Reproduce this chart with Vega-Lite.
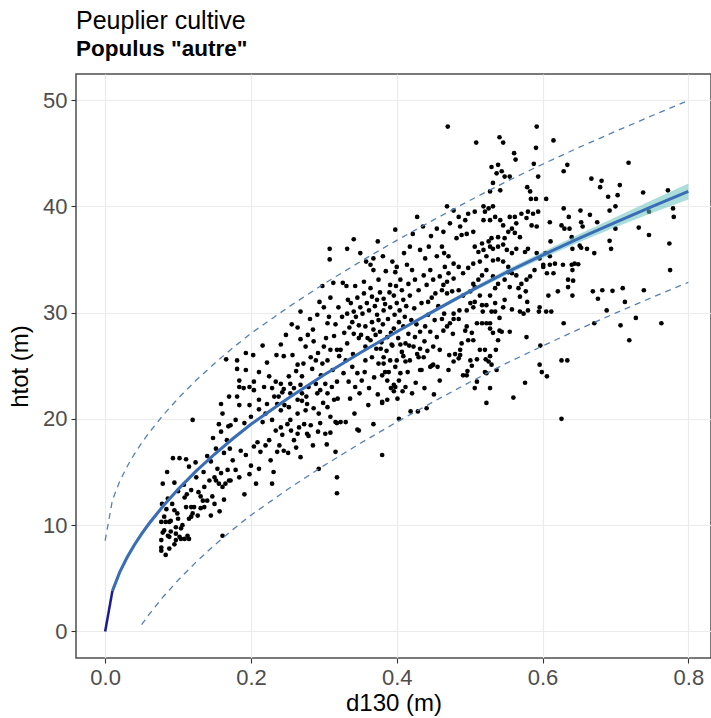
{
"$schema":"https://vega.github.io/schema/vega-lite/v6.json",
"width":635,"height":584,
"autosize":{"type":"none"},
"padding":{"left":76,"top":74,"right":0,"bottom":60},
"background":"white",
"title":{"text":"Peuplier cultive","subtitle":"Populus \"autre\"","anchor":"start","frame":"group","font":"Liberation Sans","fontSize":25,"fontWeight":"normal","color":"#000000","subtitleFont":"Liberation Sans","subtitleFontSize":22.5,"subtitleFontWeight":"bold","subtitleColor":"#000000","offset":14,"subtitlePadding":4},
"config":{
"view":{"stroke":"#4d4d4d","strokeWidth":1.5},
"axis":{"labelFont":"Liberation Sans","labelFontSize":22,"labelColor":"#4d4d4d","titleFont":"Liberation Sans","titleFontSize":24,"titleColor":"#000000","titleFontWeight":"normal","tickColor":"#333333","tickSize":5,"tickWidth":1.1,"gridColor":"#ebebeb","gridWidth":1.2,"domain":false,"labelPadding":4}
},
"resolve":{"axis":{"x":"independent","y":"independent"}},
"datasets":{
"fit":[
{"d":0,"f":0,"lo":0,"hi":0,"up":8.55},
{"d":0.01,"f":3.82,"lo":3.47,"hi":4.17,"up":12.37},
{"d":0.02,"f":5.58,"lo":5.28,"hi":5.88,"up":14.13},
{"d":0.03,"f":6.95,"lo":6.67,"hi":7.23,"up":15.5},
{"d":0.04,"f":8.13,"lo":7.87,"hi":8.39,"up":16.68},
{"d":0.05,"f":9.18,"lo":8.93,"hi":9.43,"up":17.73,"dn":0.63},
{"d":0.06,"f":10.13,"lo":9.89,"hi":10.37,"up":18.68,"dn":1.58},
{"d":0.08,"f":11.84,"lo":11.62,"hi":12.06,"up":20.39,"dn":3.29},
{"d":0.1,"f":13.37,"lo":13.17,"hi":13.57,"up":21.92,"dn":4.82},
{"d":0.125,"f":15.1,"lo":14.92,"hi":15.28,"up":23.65,"dn":6.55},
{"d":0.15,"f":16.67,"lo":16.5,"hi":16.84,"up":25.22,"dn":8.12},
{"d":0.175,"f":18.13,"lo":17.97,"hi":18.29,"up":26.68,"dn":9.58},
{"d":0.2,"f":19.49,"lo":19.34,"hi":19.64,"up":28.04,"dn":10.94},
{"d":0.25,"f":21.9,"lo":21.77,"hi":22.03,"up":30.45,"dn":13.35},
{"d":0.3,"f":24.12,"lo":24.0,"hi":24.24,"up":32.7,"dn":15.6},
{"d":0.35,"f":26.22,"lo":26.09,"hi":26.35,"up":34.8,"dn":17.7},
{"d":0.4,"f":28.2,"lo":28.05,"hi":28.35,"up":36.8,"dn":19.7},
{"d":0.45,"f":30.12,"lo":29.95,"hi":30.29,"up":38.7,"dn":21.6},
{"d":0.5,"f":32.0,"lo":31.8,"hi":32.2,"up":40.55,"dn":23.45},
{"d":0.55,"f":33.77,"lo":33.52,"hi":34.02,"up":42.32,"dn":25.22},
{"d":0.6,"f":35.41,"lo":35.11,"hi":35.71,"up":43.96,"dn":26.86},
{"d":0.65,"f":36.99,"lo":36.61,"hi":37.37,"up":45.54,"dn":28.44},
{"d":0.7,"f":38.5,"lo":38.02,"hi":38.98,"up":47.05,"dn":29.95},
{"d":0.75,"f":39.97,"lo":39.37,"hi":40.57,"up":48.52,"dn":31.42},
{"d":0.8,"f":41.4,"lo":40.65,"hi":42.15,"up":49.95,"dn":32.85}
],
"pts":[
{"d":0.079,"h":13.9},{"d":0.095,"h":14.0},{"d":0.086,"h":12.5},{"d":0.095,"h":11.4},{"d":0.077,"h":10.3},{"d":0.081,"h":9.5},{"d":0.09,"h":9.4},{"d":0.086,"h":9.0},{"d":0.077,"h":7.6},{"d":0.083,"h":7.2},{"d":0.088,"h":7.8},{"d":0.097,"h":8.6},{"d":0.102,"h":8.9},{"d":0.115,"h":8.7},{"d":0.109,"h":8.7},{"d":0.12,"h":11.1},{"d":0.115,"h":10.6},{"d":0.118,"h":11.7},{"d":0.127,"h":10.9},{"d":0.131,"h":11.6},{"d":0.136,"h":11.7},{"d":0.14,"h":12.3},{"d":0.147,"h":12.7},{"d":0.15,"h":12.0},{"d":0.131,"h":12.7},{"d":0.136,"h":13.6},{"d":0.143,"h":14.2},{"d":0.15,"h":14.5},{"d":0.156,"h":13.9},{"d":0.159,"h":14.9},{"d":0.168,"h":15.2},{"d":0.165,"h":13.9},{"d":0.17,"h":14.2},{"d":0.154,"h":15.3},{"d":0.115,"h":15.5},{"d":0.099,"h":11.1},{"d":0.106,"h":10.0},{"d":0.097,"h":9.8},{"d":0.088,"h":10.3},{"d":0.077,"h":8.6},{"d":0.104,"h":9.7},{"d":0.093,"h":16.3},{"d":0.102,"h":16.3},{"d":0.111,"h":16.2},{"d":0.12,"h":19.9},{"d":0.14,"h":16.5},{"d":0.159,"h":21.4},{"d":0.081,"h":10.8},{"d":0.09,"h":10.4},{"d":0.083,"h":10.3},{"d":0.097,"h":9.2},{"d":0.088,"h":8.9},{"d":0.079,"h":9.3},{"d":0.095,"h":8.2},{"d":0.077,"h":7.9},{"d":0.104,"h":8.7},{"d":0.113,"h":9.0},{"d":0.118,"h":10.8},{"d":0.111,"h":11.7},{"d":0.109,"h":12.6},{"d":0.122,"h":11.7},{"d":0.134,"h":12.3},{"d":0.152,"h":14.2},{"d":0.161,"h":13.6},{"d":0.161,"h":20.5},{"d":0.17,"h":22.1},{"d":0.156,"h":19.5},{"d":0.159,"h":18.8},{"d":0.161,"h":9.0},{"d":0.118,"h":13.3},{"d":0.085,"h":15.0},{"d":0.1,"h":13.2},{"d":0.108,"h":13.8},{"d":0.125,"h":14.5},{"d":0.128,"h":13.1},{"d":0.112,"h":12.9},{"d":0.145,"h":16.0},{"d":0.152,"h":17.2},{"d":0.163,"h":16.8},{"d":0.167,"h":18.0},{"d":0.148,"h":18.2},{"d":0.124,"h":15.9},{"d":0.135,"h":15.0},{"d":0.092,"h":12.0},{"d":0.1,"h":10.6},{"d":0.084,"h":11.5},{"d":0.078,"h":12.0},{"d":0.145,"h":10.9},{"d":0.157,"h":11.3},{"d":0.163,"h":12.4},{"d":0.171,"h":17.2},{"d":0.169,"h":19.3},{"d":0.166,"h":25.6},
{"d":0.175,"h":16.1},{"d":0.179,"h":15.2},{"d":0.184,"h":14.5},{"d":0.191,"h":12.9},{"d":0.198,"h":14.8},{"d":0.2,"h":15.6},{"d":0.211,"h":15.3},{"d":0.186,"h":17.0},{"d":0.193,"h":16.6},{"d":0.204,"h":17.4},{"d":0.209,"h":17.8},{"d":0.213,"h":16.9},{"d":0.22,"h":17.5},{"d":0.225,"h":18.0},{"d":0.227,"h":16.1},{"d":0.229,"h":13.9},{"d":0.236,"h":16.9},{"d":0.239,"h":17.5},{"d":0.243,"h":18.5},{"d":0.245,"h":17.0},{"d":0.255,"h":18.9},{"d":0.259,"h":18.0},{"d":0.264,"h":18.6},{"d":0.268,"h":16.4},{"d":0.277,"h":18.6},{"d":0.234,"h":18.9},{"d":0.172,"h":14.2},{"d":0.293,"h":15.3},{"d":0.316,"h":16.9},{"d":0.318,"h":14.5},{"d":0.318,"h":13.0},{"d":0.279,"h":18.4},{"d":0.292,"h":18.8},{"d":0.302,"h":18.6},{"d":0.309,"h":18.7},{"d":0.316,"h":19.7},
{"d":0.308,"h":35.0},{"d":0.298,"h":32.5},{"d":0.309,"h":31.4},{"d":0.32,"h":30.5},{"d":0.291,"h":29.8},{"d":0.264,"h":28.6},{"d":0.268,"h":27.5},{"d":0.286,"h":27.3},{"d":0.216,"h":26.9},{"d":0.241,"h":27.0},{"d":0.193,"h":26.2},{"d":0.181,"h":25.5},{"d":0.181,"h":24.7},{"d":0.193,"h":24.6},{"d":0.184,"h":23.6},{"d":0.204,"h":23.5},{"d":0.225,"h":24.0},{"d":0.241,"h":23.3},{"d":0.245,"h":25.9},{"d":0.257,"h":26.0},{"d":0.264,"h":25.1},{"d":0.252,"h":24.0},{"d":0.229,"h":22.9},{"d":0.238,"h":22.1},{"d":0.254,"h":22.4},{"d":0.27,"h":24.0},{"d":0.282,"h":25.8},{"d":0.289,"h":25.5},{"d":0.284,"h":24.7},{"d":0.298,"h":25.2},{"d":0.305,"h":25.5},{"d":0.309,"h":26.5},{"d":0.318,"h":26.5},{"d":0.314,"h":27.8},{"d":0.3,"h":26.8},{"d":0.275,"h":26.8},
{"d":0.181,"h":22.1},{"d":0.184,"h":21.3},{"d":0.204,"h":22.7},{"d":0.211,"h":21.8},{"d":0.222,"h":21.4},{"d":0.232,"h":22.1},{"d":0.241,"h":20.8},{"d":0.252,"h":21.1},{"d":0.264,"h":21.8},{"d":0.27,"h":22.4},{"d":0.279,"h":23.0},{"d":0.289,"h":23.3},{"d":0.295,"h":22.7},{"d":0.305,"h":22.4},{"d":0.311,"h":23.0},{"d":0.318,"h":23.5},{"d":0.179,"h":19.9},{"d":0.191,"h":19.6},{"d":0.2,"h":20.2},{"d":0.216,"h":19.7},{"d":0.229,"h":19.9},{"d":0.241,"h":19.2},{"d":0.254,"h":19.9},{"d":0.264,"h":20.5},{"d":0.275,"h":20.8},{"d":0.286,"h":21.0},{"d":0.293,"h":20.5},{"d":0.305,"h":21.1},{"d":0.309,"h":20.2},{"d":0.318,"h":19.6},{"d":0.266,"h":19.2},{"d":0.282,"h":19.4},{"d":0.295,"h":19.6},{"d":0.314,"h":21.8},{"d":0.302,"h":23.3},{"d":0.291,"h":22.4},{"d":0.254,"h":23.3},{"d":0.268,"h":23.2},{"d":0.243,"h":22.5},
{"d":0.308,"h":36.0},{"d":0.305,"h":29.0},{"d":0.3,"h":30.5},
{"d":0.198,"h":21.3},{"d":0.211,"h":20.9},{"d":0.22,"h":20.5},{"d":0.236,"h":21.4},{"d":0.245,"h":22.8},{"d":0.27,"h":21.7},{"d":0.277,"h":21.4},{"d":0.184,"h":23.0},{"d":0.198,"h":23.0},{"d":0.234,"h":23.5},{"d":0.172,"h":19.4},{"d":0.273,"h":19.5},{"d":0.25,"h":19.5},
{"d":0.262,"h":24.5},{"d":0.272,"h":25.2},{"d":0.278,"h":27.9},{"d":0.285,"h":28.4},{"d":0.292,"h":26.2},{"d":0.296,"h":24.1},{"d":0.303,"h":27.6},{"d":0.312,"h":24.6},{"d":0.316,"h":28.9},{"d":0.321,"h":25.9},{"d":0.307,"h":29.6},{"d":0.313,"h":32.8},{"d":0.294,"h":31.0},{"d":0.281,"h":29.4},{"d":0.268,"h":30.1},{"d":0.256,"h":28.9},{"d":0.248,"h":27.9},{"d":0.235,"h":26.0},{"d":0.222,"h":25.3},{"d":0.211,"h":24.4},{"d":0.203,"h":26.0},{"d":0.19,"h":22.9},{"d":0.218,"h":23.0},{"d":0.246,"h":21.3},{"d":0.259,"h":22.9},{"d":0.276,"h":22.1},{"d":0.299,"h":21.5},{"d":0.319,"h":21.9},{"d":0.262,"h":17.3},{"d":0.285,"h":17.5},{"d":0.304,"h":17.6},{"d":0.251,"h":16.8},{"d":0.231,"h":15.0},{"d":0.207,"h":13.9},
{"d":0.341,"h":36.9},{"d":0.428,"h":39.0},{"d":0.398,"h":37.8},{"d":0.374,"h":36.7},{"d":0.332,"h":36.0},{"d":0.368,"h":35.1},{"d":0.381,"h":35.3},{"d":0.364,"h":34.5},{"d":0.368,"h":34.0},{"d":0.331,"h":32.5},{"d":0.343,"h":32.5},{"d":0.355,"h":32.9},{"d":0.375,"h":33.1},{"d":0.391,"h":32.6},{"d":0.4,"h":34.3},{"d":0.405,"h":33.1},{"d":0.414,"h":34.5},{"d":0.422,"h":37.4},{"d":0.432,"h":35.9},{"d":0.439,"h":35.1},{"d":0.444,"h":36.2},{"d":0.455,"h":37.9},{"d":0.455,"h":35.3},{"d":0.446,"h":34.0},{"d":0.437,"h":33.5},{"d":0.425,"h":33.1},{"d":0.416,"h":32.7},{"d":0.407,"h":32.1},{"d":0.396,"h":31.6},{"d":0.382,"h":31.3},{"d":0.373,"h":31.2},{"d":0.366,"h":31.5},{"d":0.359,"h":30.9},{"d":0.35,"h":30.5},{"d":0.341,"h":30.1},{"d":0.332,"h":29.9},{"d":0.325,"h":29.6},{"d":0.339,"h":29.1},{"d":0.348,"h":28.8},{"d":0.357,"h":28.7},{"d":0.366,"h":29.1},{"d":0.373,"h":29.8},{"d":0.382,"h":30.2},{"d":0.391,"h":30.5},{"d":0.4,"h":30.9},{"d":0.409,"h":31.2},{"d":0.418,"h":31.6},{"d":0.43,"h":32.1},{"d":0.441,"h":32.6},{"d":0.45,"h":33.1},{"d":0.459,"h":33.4},
{"d":0.323,"h":26.5},{"d":0.332,"h":27.1},{"d":0.341,"h":28.0},{"d":0.348,"h":27.6},{"d":0.357,"h":26.8},{"d":0.364,"h":27.4},{"d":0.371,"h":27.9},{"d":0.377,"h":28.2},{"d":0.387,"h":27.7},{"d":0.396,"h":28.5},{"d":0.403,"h":29.1},{"d":0.409,"h":28.7},{"d":0.416,"h":28.0},{"d":0.425,"h":27.7},{"d":0.432,"h":28.2},{"d":0.439,"h":28.7},{"d":0.446,"h":28.2},{"d":0.455,"h":27.7},{"d":0.33,"h":25.5},{"d":0.339,"h":24.9},{"d":0.346,"h":24.3},{"d":0.352,"h":23.6},{"d":0.343,"h":23.0},{"d":0.334,"h":23.5},{"d":0.327,"h":24.3},{"d":0.357,"h":25.5},{"d":0.366,"h":25.8},{"d":0.375,"h":25.2},{"d":0.382,"h":25.8},{"d":0.391,"h":25.5},{"d":0.398,"h":24.9},{"d":0.405,"h":24.3},{"d":0.412,"h":23.0},{"d":0.396,"h":23.2},{"d":0.387,"h":23.6},{"d":0.38,"h":24.1},{"d":0.418,"h":25.5},{"d":0.428,"h":26.1},{"d":0.437,"h":25.8},{"d":0.432,"h":24.6},{"d":0.446,"h":24.9},{"d":0.45,"h":26.8},{"d":0.459,"h":26.5},{"d":0.448,"h":25.0},{"d":0.459,"h":23.6},
{"d":0.38,"h":16.6},{"d":0.403,"h":20.0},{"d":0.419,"h":20.7},{"d":0.434,"h":24.6},{"d":0.45,"h":25.1},{"d":0.43,"h":25.8},{"d":0.409,"h":25.9},{"d":0.4,"h":25.5},{"d":0.412,"h":25.4},{"d":0.403,"h":23.6},{"d":0.398,"h":23.0},{"d":0.396,"h":22.6},{"d":0.387,"h":21.8},{"d":0.38,"h":21.6},{"d":0.389,"h":24.4},{"d":0.384,"h":24.4},{"d":0.382,"h":25.2},{"d":0.393,"h":27.0},{"d":0.405,"h":27.0},{"d":0.412,"h":27.1},{"d":0.423,"h":26.8},{"d":0.432,"h":26.6},{"d":0.368,"h":19.5},{"d":0.346,"h":19.0},{"d":0.323,"h":19.7},{"d":0.33,"h":19.7},{"d":0.342,"h":20.5},{"d":0.361,"h":21.3},{"d":0.38,"h":21.5},{"d":0.348,"h":18.9},{"d":0.398,"h":33.8},
{"d":0.328,"h":28.1},{"d":0.335,"h":28.6},{"d":0.337,"h":30.9},{"d":0.344,"h":29.6},{"d":0.346,"h":31.4},{"d":0.351,"h":27.9},{"d":0.353,"h":29.9},{"d":0.355,"h":31.8},{"d":0.36,"h":27.6},{"d":0.362,"h":30.2},{"d":0.364,"h":32.3},{"d":0.368,"h":28.4},{"d":0.37,"h":30.6},{"d":0.372,"h":26.6},{"d":0.375,"h":29.3},{"d":0.377,"h":31.9},{"d":0.379,"h":27.2},{"d":0.381,"h":28.9},{"d":0.384,"h":30.8},{"d":0.386,"h":26.4},{"d":0.388,"h":29.4},{"d":0.39,"h":31.9},{"d":0.392,"h":28.1},{"d":0.394,"h":26.9},{"d":0.397,"h":29.8},{"d":0.399,"h":32.5},{"d":0.402,"h":27.6},{"d":0.404,"h":30.2},{"d":0.407,"h":26.3},{"d":0.411,"h":29.6},{"d":0.413,"h":30.6},{"d":0.417,"h":26.9},{"d":0.42,"h":29.3},{"d":0.424,"h":30.4},{"d":0.427,"h":28.9},{"d":0.434,"h":30.9},{"d":0.438,"h":27.3},{"d":0.443,"h":29.8},{"d":0.448,"h":31.4},{"d":0.452,"h":29.3},{"d":0.457,"h":30.6},{"d":0.34,"h":26.1},{"d":0.333,"h":31.2},{"d":0.326,"h":32.8},{"d":0.358,"h":34.8},{"d":0.35,"h":35.6},{"d":0.385,"h":33.9},{"d":0.394,"h":34.8},{"d":0.41,"h":35.6},{"d":0.418,"h":36.2},{"d":0.436,"h":38.1},{"d":0.447,"h":37.2},{"d":0.421,"h":34.0},{"d":0.453,"h":31.8},{"d":0.443,"h":31.0},
{"d":0.336,"h":21.9},{"d":0.349,"h":22.4},{"d":0.356,"h":24.4},{"d":0.362,"h":22.9},{"d":0.369,"h":23.9},{"d":0.374,"h":22.3},{"d":0.378,"h":26.6},{"d":0.392,"h":22.9},{"d":0.401,"h":21.9},{"d":0.408,"h":22.6},{"d":0.415,"h":24.4},{"d":0.421,"h":22.4},{"d":0.426,"h":23.4},{"d":0.438,"h":22.9},{"d":0.442,"h":26.4},{"d":0.451,"h":22.3},{"d":0.456,"h":24.9},{"d":0.441,"h":21.0},{"d":0.429,"h":20.7},
{"d":0.47,"h":47.5},{"d":0.509,"h":46.0},{"d":0.541,"h":46.5},{"d":0.546,"h":46.0},{"d":0.592,"h":47.5},{"d":0.615,"h":46.2},{"d":0.591,"h":45.5},{"d":0.561,"h":45.0},{"d":0.563,"h":44.4},{"d":0.588,"h":44.0},{"d":0.594,"h":42.8},{"d":0.53,"h":43.7},{"d":0.539,"h":43.9},{"d":0.544,"h":43.3},{"d":0.537,"h":43.1},{"d":0.548,"h":42.8},{"d":0.555,"h":42.8},{"d":0.532,"h":42.2},{"d":0.542,"h":41.5},{"d":0.528,"h":41.4},{"d":0.579,"h":41.8},{"d":0.583,"h":41.4},{"d":0.584,"h":40.7},{"d":0.591,"h":40.7},{"d":0.605,"h":40.7},
{"d":0.464,"h":37.6},{"d":0.482,"h":37.0},{"d":0.489,"h":37.3},{"d":0.496,"h":37.4},{"d":0.505,"h":37.6},{"d":0.519,"h":40.0},{"d":0.526,"h":39.8},{"d":0.532,"h":40.0},{"d":0.521,"h":39.5},{"d":0.507,"h":39.5},{"d":0.519,"h":38.7},{"d":0.528,"h":38.7},{"d":0.535,"h":39.0},{"d":0.542,"h":38.7},{"d":0.546,"h":38.2},{"d":0.555,"h":39.0},{"d":0.562,"h":39.0},{"d":0.571,"h":39.3},{"d":0.58,"h":39.5},{"d":0.587,"h":39.3},{"d":0.594,"h":39.5},{"d":0.578,"h":38.9},{"d":0.585,"h":38.2},{"d":0.592,"h":38.1},{"d":0.564,"h":38.4},{"d":0.558,"h":37.9},{"d":0.553,"h":37.6},{"d":0.562,"h":37.5},{"d":0.569,"h":37.1},{"d":0.548,"h":37.0},{"d":0.539,"h":37.1},{"d":0.53,"h":37.0},{"d":0.526,"h":36.7},{"d":0.517,"h":36.5},{"d":0.507,"h":36.2},{"d":0.512,"h":35.7},{"d":0.519,"h":35.9},{"d":0.528,"h":36.2},{"d":0.532,"h":36.0},{"d":0.539,"h":36.2},{"d":0.546,"h":36.4},{"d":0.551,"h":35.9},{"d":0.558,"h":35.6},{"d":0.564,"h":36.0},{"d":0.576,"h":35.7},{"d":0.58,"h":36.0},{"d":0.592,"h":35.6},{"d":0.596,"h":35.1},{"d":0.61,"h":35.3},{"d":0.617,"h":34.6},{"d":0.601,"h":34.3},{"d":0.589,"h":34.0},{"d":0.583,"h":33.4},{"d":0.578,"h":33.1},{"d":0.571,"h":32.7},{"d":0.564,"h":33.5},{"d":0.558,"h":33.7},{"d":0.553,"h":34.3},{"d":0.546,"h":34.8},{"d":0.539,"h":35.0},{"d":0.532,"h":34.9},{"d":0.523,"h":35.3},{"d":0.514,"h":34.8},{"d":0.505,"h":34.6},{"d":0.498,"h":34.2},{"d":0.491,"h":33.7},{"d":0.485,"h":34.3},{"d":0.478,"h":34.6},{"d":0.471,"h":35.3},{"d":0.465,"h":35.6},{"d":0.462,"h":36.2},{"d":0.466,"h":34.3},{"d":0.471,"h":33.7},{"d":0.478,"h":33.2},{"d":0.469,"h":32.9},{"d":0.464,"h":32.6},{"d":0.462,"h":32.1},{"d":0.469,"h":31.8},{"d":0.476,"h":32.0},{"d":0.485,"h":32.1},{"d":0.491,"h":31.6},{"d":0.501,"h":32.0},{"d":0.505,"h":32.7},{"d":0.512,"h":33.1},{"d":0.517,"h":33.5},{"d":0.523,"h":34.0},{"d":0.532,"h":33.4},{"d":0.539,"h":32.7},{"d":0.548,"h":33.1},{"d":0.555,"h":32.4},{"d":0.528,"h":31.6},{"d":0.535,"h":32.3},{"d":0.514,"h":31.6},{"d":0.507,"h":32.4},
{"d":0.469,"h":40.0},{"d":0.478,"h":39.6},{"d":0.485,"h":39.0},{"d":0.494,"h":38.7},{"d":0.487,"h":38.1},{"d":0.473,"h":38.4},{"d":0.498,"h":39.3},
{"d":0.597,"h":26.9},{"d":0.596,"h":25.1},{"d":0.599,"h":24.4},{"d":0.606,"h":24.0},{"d":0.576,"h":23.4},{"d":0.56,"h":22.0},{"d":0.507,"h":22.9},{"d":0.528,"h":22.9},{"d":0.523,"h":21.5},{"d":0.487,"h":26.5},{"d":0.478,"h":25.4},{"d":0.471,"h":24.6},{"d":0.491,"h":24.1},{"d":0.503,"h":25.0},{"d":0.51,"h":25.6},{"d":0.521,"h":26.5},{"d":0.528,"h":25.9},{"d":0.526,"h":25.4},{"d":0.53,"h":25.1},{"d":0.485,"h":25.7},{"d":0.489,"h":27.1},{"d":0.498,"h":27.4},{"d":0.503,"h":28.1},{"d":0.505,"h":27.4},{"d":0.496,"h":28.7},{"d":0.494,"h":28.3},{"d":0.51,"h":29.0},{"d":0.517,"h":29.0},{"d":0.523,"h":29.0},{"d":0.528,"h":29.0},{"d":0.518,"h":30.1},{"d":0.53,"h":30.1},{"d":0.535,"h":30.1},{"d":0.528,"h":28.5},{"d":0.532,"h":28.1},{"d":0.544,"h":28.2},{"d":0.555,"h":28.2},{"d":0.539,"h":27.4},{"d":0.541,"h":29.5},{"d":0.546,"h":30.5},{"d":0.558,"h":30.3},{"d":0.569,"h":31.5},{"d":0.548,"h":31.2},{"d":0.535,"h":30.9},{"d":0.523,"h":30.7},{"d":0.517,"h":30.7},{"d":0.507,"h":31.0},{"d":0.505,"h":30.5},{"d":0.501,"h":30.9},{"d":0.496,"h":30.2},{"d":0.485,"h":29.4},{"d":0.478,"h":29.4},{"d":0.473,"h":29.0},{"d":0.469,"h":28.7},{"d":0.464,"h":28.3},{"d":0.462,"h":29.4},{"d":0.465,"h":29.9},{"d":0.478,"h":29.9},{"d":0.486,"h":30.2},
{"d":0.578,"h":27.7},{"d":0.574,"h":29.9},{"d":0.58,"h":30.2},{"d":0.569,"h":30.1},{"d":0.579,"h":31.0},{"d":0.577,"h":32.0},{"d":0.567,"h":32.3},{"d":0.553,"h":33.8},{"d":0.596,"h":30.5},{"d":0.595,"h":30.1},{"d":0.605,"h":30.1},{"d":0.612,"h":30.1},{"d":0.61,"h":34.5},{"d":0.606,"h":33.7},{"d":0.601,"h":34.5},{"d":0.615,"h":33.7},{"d":0.621,"h":32.0},{"d":0.608,"h":31.6},
{"d":0.487,"h":26.0},{"d":0.472,"h":26.0},{"d":0.497,"h":24.5},{"d":0.501,"h":25.5},{"d":0.522,"h":25.6},{"d":0.521,"h":24.4},{"d":0.536,"h":26.5},{"d":0.48,"h":26.1},{"d":0.496,"h":24.1},{"d":0.51,"h":23.5},{"d":0.514,"h":26.5},{"d":0.537,"h":24.6},{"d":0.523,"h":24.3},{"d":0.541,"h":28.3},{"d":0.477,"h":28.0},
{"d":0.61,"h":38.5},{"d":0.611,"h":36.7},{"d":0.604,"h":35.6},
{"d":0.718,"h":44.1},{"d":0.634,"h":43.9},{"d":0.629,"h":43.3},{"d":0.667,"h":42.6},{"d":0.681,"h":42.4},{"d":0.679,"h":41.8},{"d":0.706,"h":42.0},{"d":0.69,"h":40.9},{"d":0.703,"h":41.05},{"d":0.7,"h":40.0},{"d":0.692,"h":39.6},{"d":0.738,"h":41.3},{"d":0.772,"h":41.5},{"d":0.779,"h":39.8},{"d":0.78,"h":39.0},{"d":0.746,"h":39.5},{"d":0.732,"h":38.0},{"d":0.746,"h":37.3},{"d":0.774,"h":36.5},{"d":0.775,"h":34.0},{"d":0.692,"h":36.75},{"d":0.694,"h":36.0},{"d":0.7,"h":37.9},{"d":0.675,"h":38.5},{"d":0.665,"h":39.2},{"d":0.652,"h":39.6},{"d":0.653,"h":38.5},{"d":0.655,"h":38.1},{"d":0.651,"h":36.3},{"d":0.653,"h":36.1},{"d":0.661,"h":36.0},{"d":0.671,"h":35.6},{"d":0.641,"h":36.0},{"d":0.64,"h":37.1},{"d":0.629,"h":39.8},{"d":0.626,"h":38.2},{"d":0.63,"h":37.9},{"d":0.637,"h":37.9},{"d":0.636,"h":39.0},{"d":0.628,"h":34.5},{"d":0.64,"h":34.5},{"d":0.644,"h":34.6},{"d":0.649,"h":34.55},{"d":0.641,"h":34.0},{"d":0.635,"h":33.1},{"d":0.642,"h":33.0},{"d":0.635,"h":32.4},{"d":0.641,"h":31.6},{"d":0.669,"h":32.0},{"d":0.682,"h":32.1},{"d":0.676,"h":31.3},{"d":0.696,"h":32.05},{"d":0.71,"h":32.3},{"d":0.739,"h":32.1},{"d":0.713,"h":31.0},{"d":0.688,"h":30.2},{"d":0.671,"h":29.0},{"d":0.707,"h":28.8},{"d":0.719,"h":27.4},{"d":0.728,"h":29.5},{"d":0.763,"h":29.0},{"d":0.629,"h":29.0},{"d":0.626,"h":25.5},{"d":0.634,"h":25.5},{"d":0.626,"h":20.0}
]
},
"layer":[
{"data":{"name":"pts"},"mark":{"type":"circle","size":22,"color":"#000000","opacity":1},
 "encoding":{"x":{"field":"d","type":"quantitative","scale":{"domain":[-0.04,0.8311],"nice":false,"zero":false},"axis":{"values":[0,0.2,0.4,0.6,0.8],"format":".1f","title":"d130 (m)","orient":"bottom","titlePadding":3}},
 "y":{"field":"h","type":"quantitative","scale":{"domain":[-2.5,52.45],"nice":false,"zero":false},"axis":{"values":[0,10,20,30,40,50],"title":"htot (m)","orient":"left","titlePadding":10}}}},
{"data":{"name":"fit"},"transform":[{"filter":"datum.d >= 0.01"}],"mark":{"type":"area","color":"#66c2bd","opacity":0.55},
 "encoding":{"x":{"field":"d","type":"quantitative","scale":{"domain":[-0.04,0.8311],"nice":false,"zero":false},"axis":{"values":[0.1,0.3,0.5,0.7],"orient":"top","labels":false,"ticks":false,"title":null,"gridColor":"#f3f3f3","gridWidth":0.8}},
 "y":{"field":"lo","type":"quantitative","scale":{"domain":[-2.5,52.45],"nice":false,"zero":false},"axis":{"values":[5,15,25,35,45],"orient":"right","labels":false,"ticks":false,"title":null,"gridColor":"#f3f3f3","gridWidth":0.8}},
 "y2":{"field":"hi"}}},
{"data":{"name":"fit"},"transform":[{"filter":"datum.d <= 0.01"}],"mark":{"type":"line","color":"#1c1c8c","strokeWidth":2.5},
 "encoding":{"x":{"field":"d","type":"quantitative","scale":{"domain":[-0.04,0.8311],"nice":false,"zero":false},"axis":null},
 "y":{"field":"f","type":"quantitative","scale":{"domain":[-2.5,52.45],"nice":false,"zero":false},"axis":null}}},
{"data":{"name":"fit"},"transform":[{"filter":"datum.d >= 0.01"}],"mark":{"type":"line","color":"#3a6db5","strokeWidth":3},
 "encoding":{"x":{"field":"d","type":"quantitative","scale":{"domain":[-0.04,0.8311],"nice":false,"zero":false},"axis":null},
 "y":{"field":"f","type":"quantitative","scale":{"domain":[-2.5,52.45],"nice":false,"zero":false},"axis":null}}},
{"data":{"name":"fit"},"mark":{"type":"line","color":"#5580b5","strokeWidth":1.3,"strokeDash":[6,5]},
 "encoding":{"x":{"field":"d","type":"quantitative","scale":{"domain":[-0.04,0.8311],"nice":false,"zero":false},"axis":null},
 "y":{"field":"up","type":"quantitative","scale":{"domain":[-2.5,52.45],"nice":false,"zero":false},"axis":null}}},
{"data":{"name":"fit"},"transform":[{"filter":{"field":"dn","valid":true}}],"mark":{"type":"line","color":"#5580b5","strokeWidth":1.3,"strokeDash":[6,5]},
 "encoding":{"x":{"field":"d","type":"quantitative","scale":{"domain":[-0.04,0.8311],"nice":false,"zero":false},"axis":null},
 "y":{"field":"dn","type":"quantitative","scale":{"domain":[-2.5,52.45],"nice":false,"zero":false},"axis":null}}}
]
}
